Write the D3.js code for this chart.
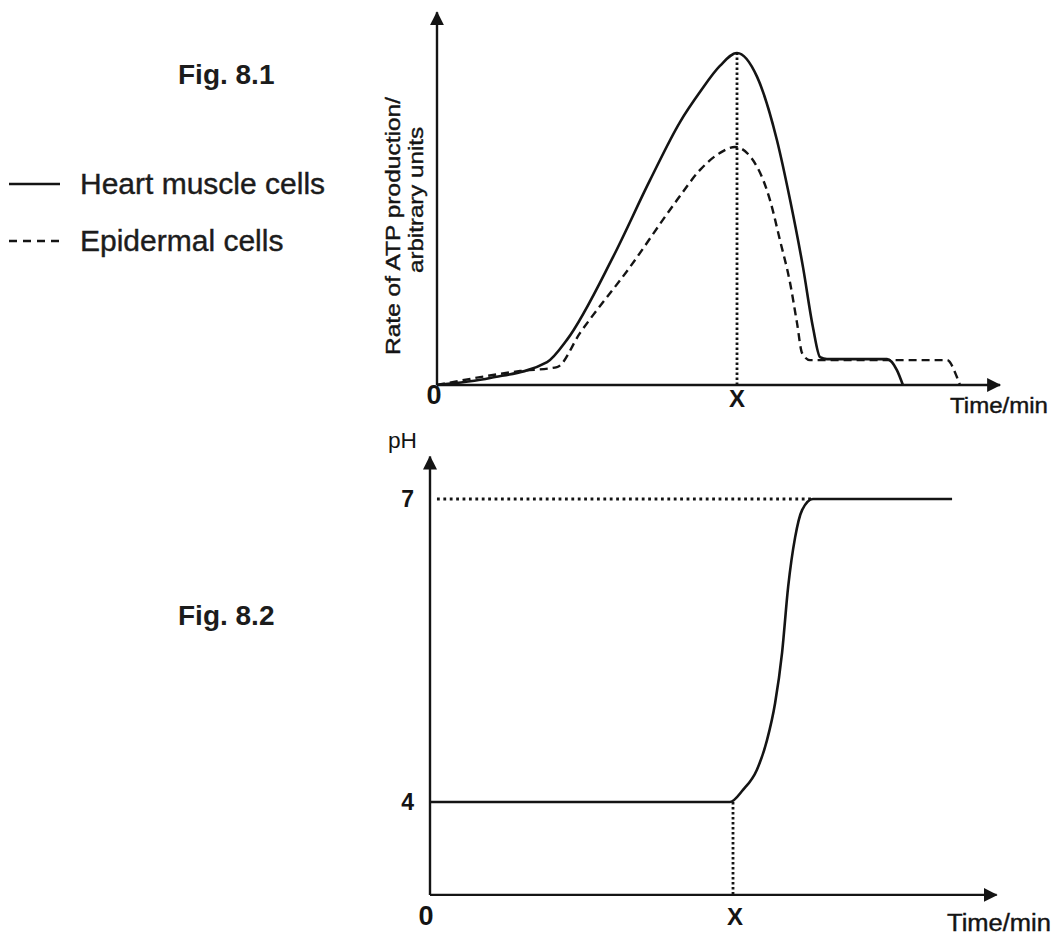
<!DOCTYPE html>
<html>
<head>
<meta charset="utf-8">
<script src="https://cdn.jsdelivr.net/npm/d3@7"></script>
<style>
  body { margin: 0; background: #fff; }
  svg { display: block; font-family: "Liberation Sans", Arial, sans-serif; }
</style>
</head>
<body>
<svg width="1052" height="936"></svg>
<script>
// Fig 8.1: rate of ATP production (arbitrary units), time scaled so that X = 10
const heartTime = [0, 1.77, 3.67, 4.33, 5.87, 7.1, 8.1, 8.77, 9.43, 10, 10.67, 11.33, 11.77, 12.2, 12.53, 12.77, 13, 15, 15.33, 15.53];
const heartRate = [0, 2.1, 6.9, 13.6, 38.6, 61.7, 79.2, 88.3, 96.1, 100, 92.8, 73.8, 55.7, 35.5, 17.5, 8.4, 7.8, 7.8, 4.5, 0];
const epiTime = [0, 2.77, 4, 4.77, 6.43, 8, 8.77, 9.43, 9.93, 10.67, 11.1, 11.43, 11.77, 12, 12.17, 12.43, 17, 17.33, 17.43];
const epiRate = [0, 4.2, 5.4, 15.7, 35.5, 55.7, 64.8, 69.9, 71.7, 65.7, 55.7, 43.7, 30.7, 18.7, 9.6, 7.5, 7.5, 2.4, 0];

// Fig 8.2: pH against time
const phTime = [0, 9.9, 10.33, 10.79, 11.12, 11.39, 11.62, 11.82, 12.05, 12.28, 12.64, 17.23];
const phValue = [4, 4, 4.12, 4.32, 4.61, 4.98, 5.48, 6.13, 6.62, 6.89, 7, 7];

const timeTicks = [0, 10];
const timeTickLabels = ['0', 'X'];
const phTicks = [4, 7];

const legendNames = ['Heart muscle cells', 'Epidermal cells'];

function draw() {
  const svg = d3.select('svg');
  const ink = '#141414';

  svg.append('defs').append('marker')
    .attr('id', 'arrow')
    .attr('markerUnits', 'userSpaceOnUse')
    .attr('viewBox', '0 0 14 14')
    .attr('refX', 13).attr('refY', 7)
    .attr('markerWidth', 14).attr('markerHeight', 14)
    .attr('orient', 'auto')
    .append('path')
    .attr('d', 'M0,0L14,7L0,14Z')
    .attr('fill', ink);

  // ---------- Fig 8.1 ----------
  const x1 = d3.scaleLinear().domain([0, 10]).range([437, 737]);
  const y1 = d3.scaleLinear().domain([0, 100]).range([385, 53]);

  // axes with arrows
  svg.append('line')
    .attr('x1', x1(0)).attr('y1', y1(0))
    .attr('x2', x1(0)).attr('y2', y1(112.3))
    .attr('stroke', ink).attr('stroke-width', 2.4)
    .attr('marker-end', 'url(#arrow)');
  svg.append('line')
    .attr('x1', x1(0)).attr('y1', y1(0))
    .attr('x2', x1(18.77)).attr('y2', y1(0))
    .attr('stroke', ink).attr('stroke-width', 2.4)
    .attr('marker-end', 'url(#arrow)');

  // dotted line at X
  svg.append('line')
    .attr('x1', x1(10)).attr('y1', y1(0))
    .attr('x2', x1(10)).attr('y2', y1(100))
    .attr('stroke', ink).attr('stroke-width', 2.8)
    .attr('stroke-dasharray', '2.4,2.6');

  const line1 = d3.line()
    .x(d => x1(d[0]))
    .y(d => y1(d[1]))
    .curve(d3.curveMonotoneX);

  svg.append('path')
    .attr('d', line1(d3.zip(epiTime, epiRate)))
    .attr('fill', 'none')
    .attr('stroke', ink).attr('stroke-width', 2.4)
    .attr('stroke-dasharray', '8,5');

  svg.append('path')
    .attr('d', line1(d3.zip(heartTime, heartRate)))
    .attr('fill', 'none')
    .attr('stroke', ink).attr('stroke-width', 2.6);

  // tick labels
  svg.selectAll('text.t1')
    .data(timeTicks)
    .join('text')
    .attr('class', 't1')
    .attr('x', (d, i) => x1(d) + (i === 0 ? -3 : 0))
    .attr('y', (d, i) => (i === 0 ? 404 : 407))
    .attr('text-anchor', 'middle')
    .attr('font-weight', 'bold')
    .attr('font-size', (d, i) => (i === 0 ? 27 : 24))
    .attr('fill', ink)
    .text((d, i) => timeTickLabels[i]);

  svg.append('text')
    .attr('x', 950).attr('y', 413)
    .attr('font-size', 22)
    .attr('textLength', 98).attr('lengthAdjust', 'spacingAndGlyphs')
    .attr('stroke', ink).attr('stroke-width', 0.4)
    .attr('fill', ink)
    .text('Time/min');

  // rotated y label
  svg.append('text')
    .attr('transform', 'translate(400,355) rotate(-90)')
    .attr('font-size', 21)
    .attr('textLength', 258).attr('lengthAdjust', 'spacingAndGlyphs')
    .attr('stroke', ink).attr('stroke-width', 0.4)
    .attr('fill', ink)
    .text('Rate of ATP production/');
  svg.append('text')
    .attr('transform', 'translate(423,273) rotate(-90)')
    .attr('font-size', 21)
    .attr('textLength', 146).attr('lengthAdjust', 'spacingAndGlyphs')
    .attr('stroke', ink).attr('stroke-width', 0.4)
    .attr('fill', ink)
    .text('arbitrary units');

  // figure label and legend
  svg.append('text')
    .attr('x', 178).attr('y', 84)
    .attr('font-size', 28).attr('font-weight', 'bold')
    .attr('fill', '#1c1c1c')
    .text('Fig. 8.1');

  const legend = svg.selectAll('g.legend')
    .data(legendNames)
    .join('g')
    .attr('class', 'legend')
    .attr('transform', (d, i) => `translate(0,${184 + i * 57})`);
  legend.append('line')
    .attr('x1', 9).attr('x2', 60)
    .attr('stroke', ink).attr('stroke-width', 2.4)
    .attr('stroke-dasharray', (d, i) => (i === 0 ? null : '8,6'));
  legend.append('text')
    .attr('x', 80).attr('y', 10)
    .attr('font-size', 30)
    .attr('stroke', '#1c1c1c').attr('stroke-width', 0.4)
    .attr('fill', '#1c1c1c')
    .text(d => d);

  // ---------- Fig 8.2 ----------
  const x2 = d3.scaleLinear().domain([0, 10]).range([430, 733]);
  const y2 = d3.scaleLinear().domain([4, 7]).range([802, 499]);
  const phBase = 3.08;

  svg.append('line')
    .attr('x1', x2(0)).attr('y1', y2(phBase))
    .attr('x2', x2(0)).attr('y2', y2(7.42))
    .attr('stroke', ink).attr('stroke-width', 2.4)
    .attr('marker-end', 'url(#arrow)');
  svg.append('line')
    .attr('x1', x2(0)).attr('y1', y2(phBase))
    .attr('x2', x2(18.7)).attr('y2', y2(phBase))
    .attr('stroke', ink).attr('stroke-width', 2.4)
    .attr('marker-end', 'url(#arrow)');

  // dotted guides
  svg.append('line')
    .attr('x1', x2(0.23)).attr('y1', y2(7))
    .attr('x2', x2(12.64)).attr('y2', y2(7))
    .attr('stroke', ink).attr('stroke-width', 2.8)
    .attr('stroke-dasharray', '2.8,3.6');
  svg.append('line')
    .attr('x1', x2(10)).attr('y1', y2(4))
    .attr('x2', x2(10)).attr('y2', y2(phBase))
    .attr('stroke', ink).attr('stroke-width', 2.8)
    .attr('stroke-dasharray', '2.4,2.6');

  const line2 = d3.line()
    .x(d => x2(d[0]))
    .y(d => y2(d[1]))
    .curve(d3.curveMonotoneX);

  svg.append('path')
    .attr('d', line2(d3.zip(phTime, phValue)))
    .attr('fill', 'none')
    .attr('stroke', ink).attr('stroke-width', 2.6);

  svg.selectAll('text.ph')
    .data(phTicks)
    .join('text')
    .attr('class', 'ph')
    .attr('x', 414)
    .attr('y', d => y2(d) + 8)
    .attr('text-anchor', 'end')
    .attr('font-size', 23).attr('font-weight', 'bold')
    .attr('fill', ink)
    .text(d => d);

  svg.selectAll('text.t2')
    .data(timeTicks)
    .join('text')
    .attr('class', 't2')
    .attr('x', (d, i) => x2(d) + (i === 0 ? -4 : 2))
    .attr('y', 925)
    .attr('text-anchor', 'middle')
    .attr('font-weight', 'bold')
    .attr('font-size', (d, i) => (i === 0 ? 27 : 24))
    .attr('fill', ink)
    .text((d, i) => timeTickLabels[i]);

  svg.append('text')
    .attr('x', 388).attr('y', 448)
    .attr('font-size', 22)
    .attr('textLength', 29).attr('lengthAdjust', 'spacingAndGlyphs')
    .attr('fill', ink)
    .text('pH');

  svg.append('text')
    .attr('x', 947).attr('y', 931)
    .attr('font-size', 23)
    .attr('textLength', 104).attr('lengthAdjust', 'spacingAndGlyphs')
    .attr('stroke', ink).attr('stroke-width', 0.4)
    .attr('fill', ink)
    .text('Time/min');

  svg.append('text')
    .attr('x', 178).attr('y', 625)
    .attr('font-size', 28).attr('font-weight', 'bold')
    .attr('fill', '#1c1c1c')
    .text('Fig. 8.2');
}

draw();
</script>
</body>
</html>
